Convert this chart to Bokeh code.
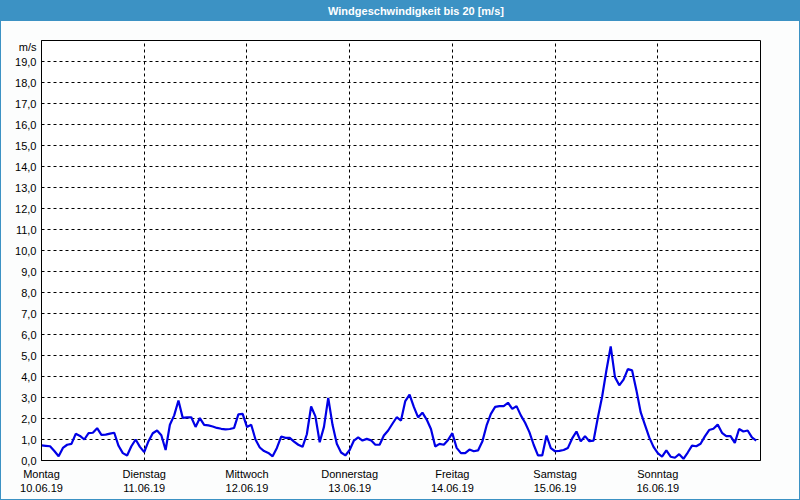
from bokeh.plotting import figure
from bokeh.models import FixedTicker, Div, Range1d
from bokeh.layouts import column
from bokeh.embed import file_html
from bokeh.resources import INLINE

title_text = "Windgeschwindigkeit bis 20 [m/s]"
unit_label = "m/s"
day_names = ["Montag", "Dienstag", "Mittwoch", "Donnerstag", "Freitag", "Samstag", "Sonntag"]
day_dates = ["10.06.19", "11.06.19", "12.06.19", "13.06.19", "14.06.19", "15.06.19", "16.06.19"]

# hourly wind speed [m/s], one list per day
mon = [0.72, 0.70, 0.68, 0.45, 0.20, 0.60, 0.75, 0.79, 1.27, 1.17, 1.00, 1.30,
       1.32, 1.54, 1.22, 1.23, 1.28, 1.32, 0.70, 0.35, 0.24, 0.68, 1.00, 0.65]
tue = [0.40, 0.92, 1.30, 1.43, 1.20, 0.50, 1.70, 2.15, 2.86, 2.03, 2.05, 2.06,
       1.60, 2.02, 1.70, 1.67, 1.62, 1.55, 1.51, 1.48, 1.50, 1.55, 2.20, 2.22]
wed = [1.60, 1.70, 1.00, 0.62, 0.45, 0.36, 0.20, 0.60, 1.14, 1.08, 1.08, 0.90,
       0.75, 0.65, 1.25, 2.57, 2.10, 0.87, 1.60, 2.98, 1.70, 0.80, 0.38, 0.24]
thu = [0.50, 0.95, 1.10, 0.95, 1.03, 0.96, 0.75, 0.75, 1.19, 1.43, 1.75, 2.06,
       1.90, 2.83, 3.14, 2.55, 2.05, 2.28, 1.95, 1.50, 0.67, 0.79, 0.75, 0.98]
fri = [1.30, 0.60, 0.35, 0.35, 0.52, 0.44, 0.48, 0.90, 1.67, 2.22, 2.55, 2.59,
       2.59, 2.75, 2.46, 2.59, 2.15, 1.80, 1.35, 0.75, 0.24, 0.24, 1.19, 0.59]
sat = [0.44, 0.46, 0.50, 0.60, 1.05, 1.38, 0.91, 1.16, 0.92, 0.95, 2.05, 3.05,
       4.30, 5.43, 3.97, 3.58, 3.85, 4.35, 4.29, 3.35, 2.30, 1.70, 1.10, 0.65]
sun = [0.35, 0.18, 0.48, 0.18, 0.13, 0.30, 0.08, 0.38, 0.71, 0.68, 0.80, 1.15,
       1.45, 1.51, 1.71, 1.32, 1.16, 1.16, 0.84, 1.50, 1.38, 1.43, 1.10, 0.95]

speed = mon + tue + wed + thu + fri + sat + sun
hours = list(range(len(speed)))

y_ticks = list(range(0, 20))
x_ticks = [24 * i for i in range(7)]
unit_tick = 19.7

FONT = "Liberation Sans"
BAR = "#3c92c4"

p = figure(width=798, height=478, x_range=Range1d(0, 168), y_range=Range1d(0, 20),
           output_backend="svg", toolbar_location=None,
           min_border_left=40, min_border_right=39, min_border_top=19, min_border_bottom=39)
p.background_fill_color = "white"
p.border_fill_color = "#fcfdfd"
p.outline_line_color = "black"
p.outline_line_width = 1

p.line(hours, speed, line_color="#0000e6", line_width=2.2)

p.xaxis.ticker = FixedTicker(ticks=x_ticks)
p.xaxis.major_label_overrides = {t: f"{n}\n{d}" for t, n, d in zip(x_ticks, day_names, day_dates)}
p.yaxis.ticker = FixedTicker(ticks=y_ticks + [unit_tick])
overrides = {t: f"{t},0" for t in y_ticks}
overrides[unit_tick] = unit_label
p.yaxis.major_label_overrides = overrides

for ax in (p.xaxis[0], p.yaxis[0]):
    ax.axis_line_color = "black"
    ax.major_tick_line_color = None
    ax.minor_tick_line_color = None
    ax.major_tick_out = 0
    ax.major_tick_in = 0
    ax.major_label_text_font = FONT
    ax.major_label_text_font_size = "11px"
    ax.major_label_text_color = "black"
p.xaxis.major_label_standoff = 7
p.yaxis.major_label_standoff = 5

p.xgrid.ticker = FixedTicker(ticks=x_ticks[1:])
p.ygrid.ticker = FixedTicker(ticks=y_ticks[1:])
for g in (p.xgrid[0], p.ygrid[0]):
    g.grid_line_color = "black"
    g.grid_line_dash = "3 3"
    g.grid_line_width = 1

bar = Div(text=title_text, width=798, height=20, margin=0,
          styles={"background-color": BAR, "color": "white", "font-family": FONT,
                  "font-weight": "bold", "font-size": "11px", "text-align": "center",
                  "line-height": "20px", "padding-left": "32px", "box-sizing": "border-box"})

layout = column(bar, p, spacing=0, margin=0,
                styles={"border": f"1px solid {BAR}", "background-color": "#fcfdfd"})

open("out.html", "w").write(file_html(layout, INLINE))
